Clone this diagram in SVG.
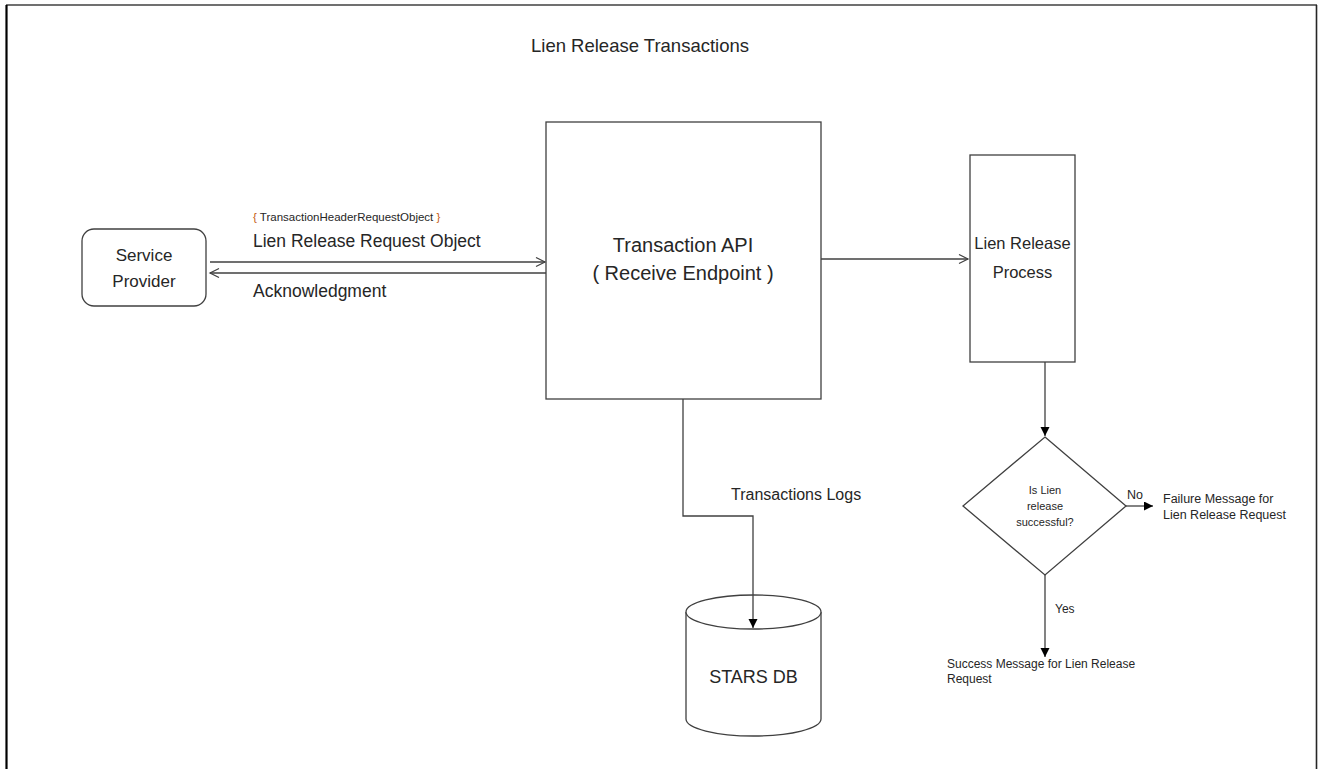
<svg xmlns="http://www.w3.org/2000/svg" width="1322" height="769" viewBox="0 0 1322 769">
<defs>
<style>
text{font-family:"Liberation Sans",Arial,sans-serif;fill:#262626}
.box{fill:#fff;stroke:#404040;stroke-width:1.3}
.ln{fill:none;stroke:#404040;stroke-width:1.3}
.m{text-anchor:middle}
</style>
<marker id="open" markerWidth="12" markerHeight="12" refX="10" refY="5" orient="auto" markerUnits="userSpaceOnUse">
<path d="M1,0.5 L10,5 L1,9.5" fill="none" stroke="#404040" stroke-width="1.2"/>
</marker>
<marker id="solid" markerWidth="12" markerHeight="12" refX="9" refY="4.5" orient="auto" markerUnits="userSpaceOnUse">
<path d="M0,0 L9,4.5 L0,9 Z" fill="#000"/>
</marker>
</defs>
<rect width="1322" height="769" fill="#fff"/>
<g id="frame">
<line x1="6" y1="5" x2="1317" y2="5" stroke="#404040" stroke-width="1.5"/>
<line x1="6.5" y1="5" x2="6.5" y2="769" stroke="#000" stroke-width="2.2"/>
<line x1="1316.5" y1="5" x2="1316.5" y2="769" stroke="#262626" stroke-width="1.6"/>
</g>
<text id="title" x="640" y="52" class="m" font-size="18.5">Lien Release Transactions</text>
<g id="service-provider">
<rect class="box" x="82" y="229" width="124" height="77" rx="12"/>
<text x="144" y="261" class="m" font-size="17">Service</text>
<text x="144" y="287" class="m" font-size="17">Provider</text>
</g>
<g id="transaction-api">
<rect class="box" x="546" y="122" width="275" height="277"/>
<text x="683" y="252" class="m" font-size="20">Transaction API</text>
<text x="683" y="280" class="m" font-size="20">( Receive Endpoint )</text>
</g>
<g id="lien-release-process">
<rect class="box" x="970" y="155" width="105" height="207"/>
<text x="1022.5" y="249" class="m" font-size="16.5">Lien Release</text>
<text x="1022.5" y="278" class="m" font-size="16.5">Process</text>
</g>
<g id="stars-db">
<path class="box" d="M686,612 L686,719 A67.5,17 0 0 0 821,719 L821,612"/>
<ellipse class="box" cx="753.5" cy="612" rx="67.5" ry="17"/>
<text x="753.5" y="683" class="m" font-size="18">STARS DB</text>
</g>
<g id="decision">
<polygon class="box" points="1045,437 1126,506 1045,575 963,506"/>
<text x="1045" y="494" class="m" font-size="11">Is Lien</text>
<text x="1045" y="510" class="m" font-size="11">release</text>
<text x="1045" y="526" class="m" font-size="11">successful?</text>
</g>
<g id="failure-message">
<text x="1163" y="503" font-size="12.5">Failure Message for</text>
<text x="1163" y="519" font-size="12.5">Lien Release Request</text>
</g>
<g id="success-message">
<text x="947" y="668" font-size="12">Success Message for Lien Release</text>
<text x="947" y="683" font-size="12">Request</text>
</g>
<g id="connectors">
<line class="ln" x1="210" y1="262" x2="545" y2="262" marker-end="url(#open)"/>
<line class="ln" x1="546" y1="273" x2="210" y2="273" marker-end="url(#open)"/>
<line class="ln" x1="821" y1="259" x2="968" y2="259" marker-end="url(#open)"/>
<polyline class="ln" points="683,399 683,516 753,516 753,628" marker-end="url(#solid)"/>
<line class="ln" x1="1045" y1="362" x2="1045" y2="436" marker-end="url(#solid)"/>
<line class="ln" x1="1126" y1="506" x2="1153" y2="506" marker-end="url(#solid)"/>
<line class="ln" x1="1045" y1="575" x2="1045" y2="657" marker-end="url(#solid)"/>
<text x="253" y="221" font-size="11.5"><tspan fill="#c55a11">{ </tspan>TransactionHeaderRequestObject<tspan fill="#c55a11"> }</tspan></text>
<text x="253" y="247" font-size="17.5">Lien Release Request Object</text>
<text x="253" y="297" font-size="17.5">Acknowledgment</text>
<text x="731" y="500" font-size="16">Transactions Logs</text>
<text x="1127" y="499" font-size="12.5">No</text>
<text x="1055" y="613" font-size="12">Yes</text>
</g>
</svg>
